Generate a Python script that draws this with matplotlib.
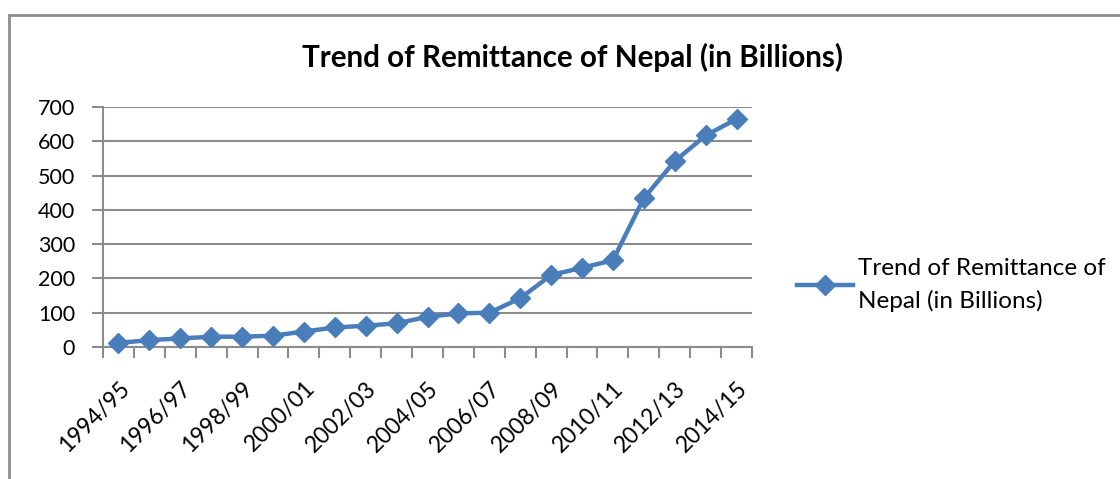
import matplotlib
matplotlib.use("Agg")
import matplotlib.pyplot as plt
from matplotlib.patches import Rectangle

# Remittance values (billions)
years = ["1994/95", "1995/96", "1996/97", "1997/98", "1998/99", "1999/00",
         "2000/01", "2001/02", "2002/03", "2003/04", "2004/05", "2005/06",
         "2006/07", "2007/08", "2008/09", "2009/10", "2010/11", "2011/12",
         "2012/13", "2013/14", "2014/15"]
remittance = [12, 20, 25, 30, 30, 33, 45, 57, 62, 69, 88, 98,
              100, 142, 210, 231, 253, 434, 542, 617, 665]
y_ticks = [0, 100, 200, 300, 400, 500, 600, 700]

TITLE = "Trend of Remittance of Nepal (in Billions)"
LINE_COLOR = "#4a7ebb"
GRID_COLOR = "#8c8c8c"

plt.rcParams["font.family"] = ["Lato", "DejaVu Sans"]

W, H = 1120, 479
fig = plt.figure(figsize=(W / 100, H / 100), dpi=100)
ax = fig.add_axes([103 / W, 1 - 347 / H, (752 - 103) / W, (347 - 107) / H])

x = list(range(len(years)))
ax.plot(x, remittance, color=LINE_COLOR, linewidth=3.2, marker="D",
        markersize=10, label="Trend of Remittance of\nNepal (in Billions)",
        solid_joinstyle="round", clip_on=False, zorder=3)

ax.set_xlim(-0.5, len(years) - 0.5)
ax.set_ylim(0, 700)
ax.set_yticks(y_ticks)
ax.tick_params(axis="y", labelsize=15.5, length=8, width=1.5, color=GRID_COLOR, pad=12)
ax.yaxis.grid(True, color=GRID_COLOR, linewidth=1.5)
ax.set_axisbelow(True)

# category boundary ticks, labels on every other category
ax.set_xticks([i - 0.5 for i in range(len(years) + 1)], minor=False)
ax.set_xticklabels([])
ax.set_xticks(x[::2], minor=True)
ax.set_xticklabels(years[::2], minor=True, rotation=45, ha="right", va="top",
                   rotation_mode="anchor", fontsize=16.5)
ax.tick_params(axis="x", which="major", length=8, width=1.5, color=GRID_COLOR)
ax.tick_params(axis="x", which="minor", length=0, pad=22)

for side in ["top", "right"]:
    ax.spines[side].set_visible(False)
for side in ["left", "bottom"]:
    ax.spines[side].set_color(GRID_COLOR)
    ax.spines[side].set_linewidth(1.5)

fig.text(572 / W, 1 - 57 / H, TITLE, ha="center", va="center",
         fontsize=21.3, fontweight="bold")

leg = ax.legend(loc="center left", bbox_to_anchor=(775 / W, 1 - 285 / H),
                bbox_transform=fig.transFigure, frameon=False, fontsize=17.5,
                handlelength=2.3, handletextpad=0.2)
for t in leg.get_texts():
    t.set_linespacing(1.55)

# outer chart border (bottom and right edges fall outside the image)
fig.add_artist(Rectangle((9 / W, -0.1), 1.2, 1 - 15 / H + 0.1,
                         transform=fig.transFigure, fill=False,
                         edgecolor=GRID_COLOR, linewidth=2))

fig.savefig("out.png", dpi=100)
